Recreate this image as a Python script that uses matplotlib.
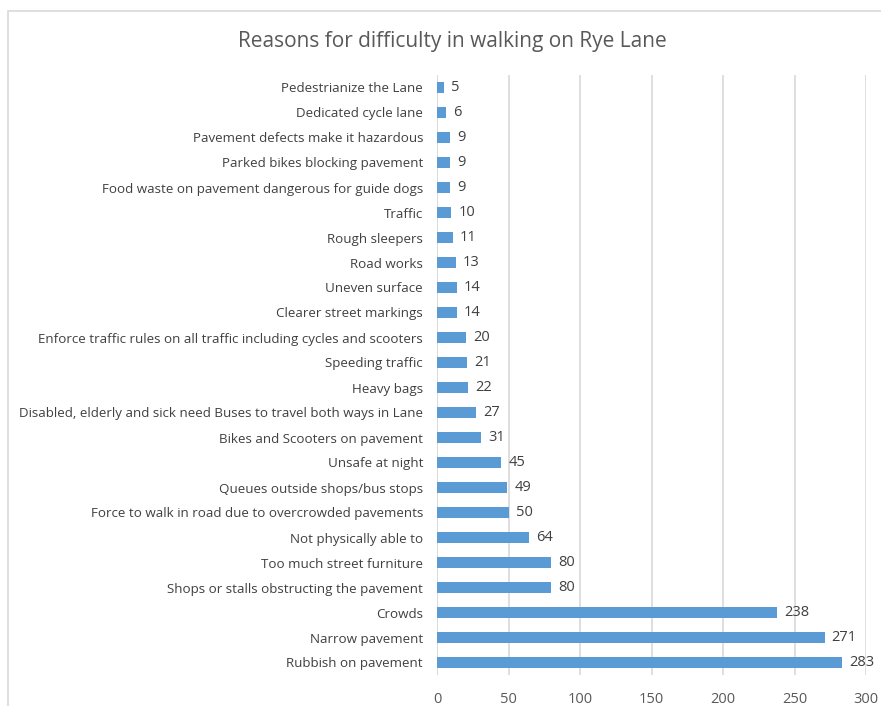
import matplotlib.pyplot as plt
from matplotlib.patches import Rectangle

plt.rcParams['font.family'] = ['Open Sans', 'DejaVu Sans']

reasons = [
    "Pedestrianize the Lane",
    "Dedicated cycle lane",
    "Pavement defects make it hazardous",
    "Parked bikes blocking pavement",
    "Food waste on pavement dangerous for guide dogs",
    "Traffic",
    "Rough sleepers",
    "Road works",
    "Uneven surface",
    "Clearer street markings",
    "Enforce traffic rules on all traffic including cycles and scooters",
    "Speeding traffic",
    "Heavy bags",
    "Disabled, elderly and sick need Buses to travel both ways in Lane",
    "Bikes and Scooters on pavement",
    "Unsafe at night",
    "Queues outside shops/bus stops",
    "Force to walk in road due to overcrowded pavements",
    "Not physically able to",
    "Too much street furniture",
    "Shops or stalls obstructing the pavement",
    "Crowds",
    "Narrow pavement",
    "Rubbish on pavement",
]
counts = [5, 6, 9, 9, 9, 10, 11, 13, 14, 14, 20, 21, 22, 27, 31, 45, 49, 50,
          64, 80, 80, 238, 271, 283]
xticks = [0, 50, 100, 150, 200, 250, 300]

bar_color = '#5B9BD5'
text_color = '#595959'
grid_color = '#D9D9D9'

fig = plt.figure(figsize=(8.81, 7.06), dpi=100)
ax = fig.add_axes([437 / 881, 1 - 675 / 706, (866 - 437) / 881, (675 - 75) / 706])

# chart frame
fig.patches.append(Rectangle((8 / 881, -0.01), 1.0, 1 - 11 / 706 + 0.01,
                             transform=fig.transFigure, fill=False,
                             edgecolor='#D9D9D9', linewidth=1.2))

pos = list(range(len(reasons)))
ax.barh(pos, counts, height=0.42, color=bar_color, zorder=3)
for p, v in zip(pos, counts):
    ax.text(v + 5, p, str(v), va='center', ha='left', fontsize=10.5,
            color='#404040')

ax.set_ylim(len(reasons) - 0.5, -0.5)
ax.set_yticks(pos)
ax.set_yticklabels(reasons, fontsize=9.6, color='#404040')
ax.set_xlim(0, 300)
ax.set_xticks(xticks)
ax.set_xticklabels([str(t) for t in xticks], fontsize=10.5, color=text_color)
ax.tick_params(axis='both', length=0)
ax.tick_params(axis='x', pad=12)
ax.tick_params(axis='y', pad=10)
ax.grid(axis='x', color=grid_color, linewidth=1.2, zorder=0)
for s in ax.spines.values():
    s.set_visible(False)
ax.axvline(0, color=grid_color, linewidth=1.2, zorder=1)

fig.text(452 / 881, 1 - 42 / 706, "Reasons for difficulty in walking on Rye Lane",
         ha='center', va='center', fontsize=15, color=text_color)

fig.savefig('out.png', dpi=100, facecolor='white')
